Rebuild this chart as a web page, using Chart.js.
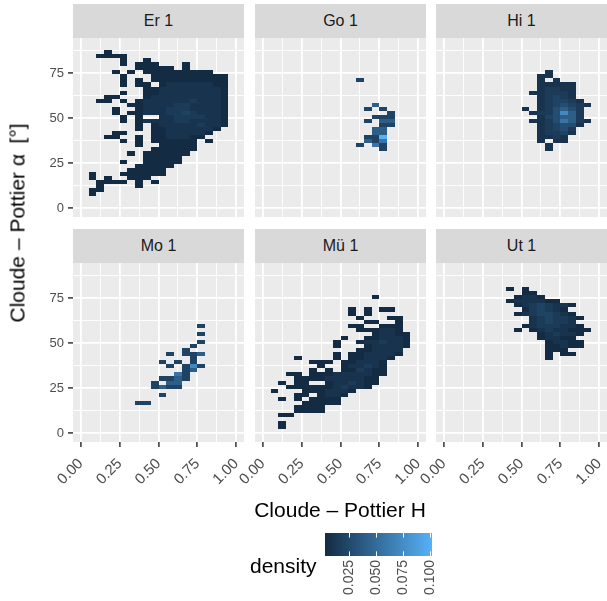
<!DOCTYPE html>
<html>
<head>
<meta charset="utf-8">
<script src="https://cdn.jsdelivr.net/npm/chart.js@4.4.1/dist/chart.umd.min.js"></script>
<style>
  html, body { margin: 0; padding: 0; background: #fff; overflow: hidden; }
  body { width: 607px; height: 601px; position: relative; font-family: "Liberation Sans", Arial, sans-serif; }
  canvas, .strip, .label { position: absolute; }
  .strip { background: #D9D9D9; color: #1A1A1A; font-size: 16px; display: flex; align-items: center; justify-content: center; }
  .label { color: #000; font-size: 21px; line-height: 21px; white-space: nowrap; }
</style>
</head>
<body>
<script>
// Facets, bins and axes
const PANELS = ['Er 1', 'Go 1', 'Hi 1', 'Mo 1', 'Mü 1', 'Ut 1'];
const BIN_W = 0.05;      // Cloude-Pottier H
const BIN_H = 2.25;      // alpha, degrees
const N_ROWS = 40;
const X_TICKS = [0, 0.25, 0.5, 0.75, 1];
const X_MINOR = [0.125, 0.375, 0.625, 0.875];
const Y_TICKS = [0, 25, 50, 75];
const Y_MINOR = [12.5, 37.5, 62.5, 87.5];
const LEGEND_TICKS = [0.025, 0.05, 0.075, 0.1];
const DENSITY_MIN = 0.0024;
const DENSITY_MAX = 0.102;

// density for each level character used in the grids below
const LEVELS = { '1': 0.003, '2': 0.008, '3': 0.014, '4': 0.020, '5': 0.028, '6': 0.040, '7': 0.057, '8': 0.072, '9': 0.102 };

// 2d bins, one row per alpha bin from the top (bin 39) to the bottom (bin 0), 20 H bins per row
const gridEr = [
  '..... ..... ..... .....',
  '...1. ..... ..... .....',
  '..111 1.... ..... .....',
  '..... 1..1. ..... .....',
  '..... 1.111 ...1. .....',
  '..... ..111 11.1. .....',
  '....1 .1.11 11111 11...',
  '..... 1...1 11111 1111.',
  '..... 1.1.1 11111 1111.',
  '..... 1.11. 12222 2211.',
  '..... ...11 22222 2221.',
  '..... 1..11 22222 2221.',
  '...11 ...12 22222 2221.',
  '..11. 1.122 22223 2221.',
  '..... .1122 22332 2221.',
  '....1 ..122 23332 2221.',
  '....1 .1122 23343 2221.',
  '..... 1.1.. 22333 3221.',
  '..... 1.122 22332 2221.',
  '..... ..1.1 22222 3221.',
  '..... ..1.1 12222 221..',
  '....1 1...1 12222 21...',
  '...11 ..1.1 12221 1....',
  '..... 1.1.1 11111 .1...',
  '..... ..1.. 11111 .....',
  '..... ....1 11111 .....',
  '..... .1.11 1111. .....',
  '..... ...11 111.. .....',
  '..... 1..11 111.. .....',
  '..... ..111 11... .....',
  '..... .1111 1.... .....',
  '.1... 11111 1.... .....',
  '.1.1. .111. ..... .....',
  '..111 1.1.1 ..... .....',
  '..1.. ..1.. ..... .....',
  '.11.. ..... ..... .....',
  '.1... ..... ..... .....',
  '..... ..... ..... .....',
  '..... ..... ..... .....',
  '..... ..... ..... .....'
];

const gridGo = [
  '..... ..... ..... .....',
  '..... ..... ..... .....',
  '..... ..... ..... .....',
  '..... ..... ..... .....',
  '..... ..... ..... .....',
  '..... ..... ..... .....',
  '..... ..... ..... .....',
  '..... ..... ..... .....',
  '..... ..... ..4.. .....',
  '..... ..... ..... .....',
  '..... ..... ..... .....',
  '..... ..... ..... .....',
  '..... ..... ..... .....',
  '..... ..... ..... .....',
  '..... ..... ....6 .....',
  '..... ..... ...4. 4....',
  '..... ..... ..... .4...',
  '..... ..... ....4 44...',
  '..... ..... ...4. 66...',
  '..... ..... ..... 44...',
  '..... ..... ....6 6....',
  '..... ..... ....6 6....',
  '..... ..... ...44 9....',
  '..... ..... ...64 7....',
  '..... ..... ..4.7 4....',
  '..... ..... ..... 4....',
  '..... ..... ..... .....',
  '..... ..... ..... .....',
  '..... ..... ..... .....',
  '..... ..... ..... .....',
  '..... ..... ..... .....',
  '..... ..... ..... .....',
  '..... ..... ..... .....',
  '..... ..... ..... .....',
  '..... ..... ..... .....',
  '..... ..... ..... .....',
  '..... ..... ..... .....',
  '..... ..... ..... .....',
  '..... ..... ..... .....',
  '..... ..... ..... .....'
];

const gridHi = [
  '..... ..... ..... .....',
  '..... ..... ..... .....',
  '..... ..... ..... .....',
  '..... ..... ..... .....',
  '..... ..... ..... .....',
  '..... ..... ..... .....',
  '..... ..... ...2. .....',
  '..... ..... ..22. .....',
  '..... ..... ..2.2 .....',
  '..... ..... ..222 22...',
  '..... ..... ..233 22...',
  '..... ..... .2233 32...',
  '..... ..... ..234 32...',
  '..... ..... ..234 432..',
  '..... ..... ..234 5432.',
  '..... ..... 2.235 653..',
  '..... ..... .2335 863..',
  '..... ..... ..245 663..',
  '..... ..... .2235 7632.',
  '..... ..... ..234 552..',
  '..... ..... ..234 53...',
  '..... ..... ..233 42...',
  '..... ..... ..223 2....',
  '..... ..... ..2.2 2....',
  '..... ..... ...2. .....',
  '..... ..... ...2. .....',
  '..... ..... ..... .....',
  '..... ..... ..... .....',
  '..... ..... ..... .....',
  '..... ..... ..... .....',
  '..... ..... ..... .....',
  '..... ..... ..... .....',
  '..... ..... ..... .....',
  '..... ..... ..... .....',
  '..... ..... ..... .....',
  '..... ..... ..... .....',
  '..... ..... ..... .....',
  '..... ..... ..... .....',
  '..... ..... ..... .....',
  '..... ..... ..... .....'
];

const gridMo = [
  '..... ..... ..... .....',
  '..... ..... ..... .....',
  '..... ..... ..... .....',
  '..... ..... ..... .....',
  '..... ..... ..... .....',
  '..... ..... ..... .....',
  '..... ..... ..... .....',
  '..... ..... ..... .....',
  '..... ..... ..... .....',
  '..... ..... ..... .....',
  '..... ..... ..... .....',
  '..... ..... ..... .....',
  '..... ..... ..... .....',
  '..... ..... ..... 4....',
  '..... ..... ..... .....',
  '..... ..... ..... 4....',
  '..... ..... ..... .....',
  '..... ..... ..... 4....',
  '..... ..... ....4 .....',
  '..... ..... ...4. .....',
  '..... ..... .4.44 6....',
  '..... ..... ....4 .....',
  '..... ..... 4.4.4 .....',
  '..... ..... .4.48 4....',
  '..... ..... ...46 .....',
  '..... ..... ..74. .....',
  '..... ..... 4464. .....',
  '..... ....4 .66.. .....',
  '..... ....4 644.. .....',
  '..... ..... ..... .....',
  '..... ..... 4.... .....',
  '..... ..... ..... .....',
  '..... ..44. ..... .....',
  '..... ..... ..... .....',
  '..... ..... ..... .....',
  '..... ..... ..... .....',
  '..... ..... ..... .....',
  '..... ..... ..... .....',
  '..... ..... ..... .....',
  '..... ..... ..... .....'
];

const gridMu = [
  '..... ..... ..... .....',
  '..... ..... ..... .....',
  '..... ..... ..... .....',
  '..... ..... ..... .....',
  '..... ..... ..... .....',
  '..... ..... ..... .....',
  '..... ..... ....1 .....',
  '..... ..... ..... .....',
  '..... ..... ..... .....',
  '..... ..... .1.1. 11...',
  '..... ..... .1.1. .....',
  '..... ..... ..1.. .11..',
  '..... ..... ...11 ..1..',
  '..... ..... .11.. 111..',
  '..... ..... ..111 221..',
  '..... ..... ....1 2211.',
  '..... ..... 1..11 2221.',
  '..... ....1 ..122 3221.',
  '..... ....1 ...12 2221.',
  '..... ..... ..112 222..',
  '..... ....1 .1122 221..',
  '....1 ....1 .1122 21...',
  '..... .111. 11222 1....',
  '..... ..1.. 12232 1....',
  '..... .1.1. 11321 1....',
  '...11 .1112 22221 1....',
  '....1 11122 22211 .....',
  '..1.1 1..12 23211 .....',
  '...11 11112 3221. .....',
  '.1... 11122 21... .....',
  '....1 1.122 1.... .....',
  '..1.1 .1111 ..... .....',
  '..... 11111 ..... .....',
  '....1 111.. ..... .....',
  '....1 111.. ..... .....',
  '..11. ..... ..... .....',
  '..... ..... ..... .....',
  '..1.. ..... ..... .....',
  '..1.. ..... ..... .....',
  '..... ..... ..... .....'
];

const gridUt = [
  '..... ..... ..... .....',
  '..... ..... ..... .....',
  '..... ..... ..... .....',
  '..... ..... ..... .....',
  '..... ...1. 1.... .....',
  '..... ..... 11... .....',
  '..... ....1 221.. .....',
  '..... ...12 22211 .....',
  '..... ....1 23432 21...',
  '..... ..... 13432 1....',
  '..... ....1 23443 21...',
  '..... ..... .2343 321..',
  '..... ..... .2343 32...',
  '..... ..... 12333 221..',
  '..... ....1 .1232 2111.',
  '..... ..... ..123 221..',
  '..... ..... ..122 11...',
  '..... ..... ...12 211..',
  '..... ..... ...11 211..',
  '..... ..... ...11 1....',
  '..... ..... ...1. 11...',
  '..... ..... ...1. .....',
  '..... ..... ..... .....',
  '..... ..... ..... .....',
  '..... ..... ..... .....',
  '..... ..... ..... .....',
  '..... ..... ..... .....',
  '..... ..... ..... .....',
  '..... ..... ..... .....',
  '..... ..... ..... .....',
  '..... ..... ..... .....',
  '..... ..... ..... .....',
  '..... ..... ..... .....',
  '..... ..... ..... .....',
  '..... ..... ..... .....',
  '..... ..... ..... .....',
  '..... ..... ..... .....',
  '..... ..... ..... .....',
  '..... ..... ..... .....',
  '..... ..... ..... .....'
];

const GRIDS = [gridEr, gridGo, gridHi, gridMo, gridMu, gridUt];

// Layout (px)
const PANEL_LEFT = [73, 255, 436];
const PANEL_TOP = [38, 263];
const PANEL_W = 171;
const PANEL_H = 179;
const STRIP_H = 34;
const X_AXIS_H = 55;
const GUTTER = 34;   // blank room left of inner panels so rotated labels are not cut

const LOW = [19, 43, 67];     // #132B43
const HIGH = [86, 177, 247];  // #56B1F7

Chart.defaults.font.family = '"Liberation Sans", Arial, sans-serif';

function fillFor(v) {
    const t = Math.min(1, Math.max(0, (v - DENSITY_MIN) / (DENSITY_MAX - DENSITY_MIN)));
    const c = LOW.map((lo, k) => Math.round(lo + (HIGH[k] - lo) * t));
    return `rgb(${c[0]}, ${c[1]}, ${c[2]})`;
}

// Turn a grid into bin centres with their density
function cellsFrom(grid) {
    const pts = [];
    grid.forEach((row, k) => {
        const j = N_ROWS - 1 - k;
        row.replace(/ /g, '').split('').forEach((ch, i) => {
            if (LEVELS[ch]) pts.push({ x: (i + 0.5) * BIN_W, y: (j + 0.5) * BIN_H, v: LEVELS[ch] });
        });
    });
    return pts;
}

// Grey panel background
const panelBg = {
    id: 'panelBg',
    beforeDraw(chart) {
        const { ctx, chartArea: a } = chart;
        ctx.save();
        ctx.fillStyle = '#EBEBEB';
        ctx.fillRect(a.left, a.top, a.right - a.left, a.bottom - a.top);
        ctx.restore();
    }
};

// Bin rectangles placed through the chart scales
const binCells = {
    id: 'binCells',
    beforeDatasetsDraw(chart) {
        const { ctx, chartArea: a, scales: { x, y } } = chart;
        ctx.save();
        ctx.beginPath();
        ctx.rect(a.left, a.top, a.right - a.left, a.bottom - a.top);
        ctx.clip();
        chart.data.datasets[0].data.forEach(p => {
            const x0 = Math.round(x.getPixelForValue(p.x - BIN_W / 2));
            const x1 = Math.round(x.getPixelForValue(p.x + BIN_W / 2));
            const y0 = Math.round(y.getPixelForValue(p.y + BIN_H / 2));
            const y1 = Math.round(y.getPixelForValue(p.y - BIN_H / 2));
            ctx.fillStyle = fillFor(p.v);
            ctx.fillRect(x0, y0, x1 - x0, y1 - y0);
        });
        ctx.restore();
    }
};

function addBox(cls, text, css) {
    const el = document.createElement('div');
    el.className = cls;
    el.textContent = text;
    Object.assign(el.style, css);
    document.body.appendChild(el);
    return el;
}

PANELS.forEach((name, idx) => {
    const r = Math.floor(idx / 3);
    const c = idx % 3;
    const yAxisW = c === 0 ? PANEL_LEFT[0] : GUTTER;
    const left = PANEL_LEFT[c] - yAxisW;
    const width = yAxisW + PANEL_W;
    const height = PANEL_H + (r === 1 ? X_AXIS_H : 0);

    addBox('strip', name, {
        left: PANEL_LEFT[c] + 'px', top: (PANEL_TOP[r] - STRIP_H) + 'px',
        width: PANEL_W + 'px', height: STRIP_H + 'px'
    });

    const canvas = document.createElement('canvas');
    canvas.width = width;
    canvas.height = height;
    Object.assign(canvas.style, { left: left + 'px', top: PANEL_TOP[r] + 'px', width: width + 'px', height: height + 'px' });
    document.body.appendChild(canvas);

    const showX = r === 1;
    const showY = c === 0;

    new Chart(canvas, {
        type: 'scatter',
        data: { datasets: [{ data: cellsFrom(GRIDS[idx]), pointRadius: 0, pointHoverRadius: 0 }] },
        options: {
            responsive: false,
            animation: false,
            events: [],
            layout: { padding: 0 },
            plugins: { legend: { display: false }, tooltip: { enabled: false } },
            scales: {
                x: {
                    type: 'linear',
                    min: -0.05,
                    max: 1.05,
                    afterBuildTicks: s => { s.ticks = X_TICKS.concat(X_MINOR).sort((a, b) => a - b).map(v => ({ value: v })); },
                    afterFit: s => { s.height = showX ? X_AXIS_H : 0; s.paddingLeft = 0; s.paddingRight = 0; },
                    border: { display: false },
                    grid: {
                        color: '#FFFFFF',
                        lineWidth: ctx => (ctx.tick && X_TICKS.includes(ctx.tick.value)) ? 1.8 : 0.9,
                        drawTicks: showX,
                        tickLength: 5,
                        tickWidth: 1.5,
                        tickColor: ctx => (ctx.tick && X_TICKS.includes(ctx.tick.value)) ? '#333333' : 'rgba(0,0,0,0)'
                    },
                    ticks: {
                        display: showX,
                        autoSkip: false,
                        minRotation: 45,
                        maxRotation: 45,
                        padding: 8,
                        color: '#4D4D4D',
                        font: { size: 15 },
                        callback: v => X_TICKS.includes(v) ? v.toFixed(2) : ''
                    }
                },
                y: {
                    type: 'linear',
                    min: -4.8,
                    max: 94.4,
                    afterBuildTicks: s => { s.ticks = Y_TICKS.concat(Y_MINOR).sort((a, b) => a - b).map(v => ({ value: v })); },
                    afterFit: s => { s.width = yAxisW; s.paddingTop = 0; s.paddingBottom = 0; },
                    border: { display: false },
                    grid: {
                        color: '#FFFFFF',
                        lineWidth: ctx => (ctx.tick && Y_TICKS.includes(ctx.tick.value)) ? 1.8 : 0.9,
                        drawTicks: showY,
                        tickLength: 5,
                        tickWidth: 1.5,
                        tickColor: ctx => (ctx.tick && Y_TICKS.includes(ctx.tick.value)) ? '#333333' : 'rgba(0,0,0,0)'
                    },
                    ticks: {
                        display: showY,
                        autoSkip: false,
                        padding: 4,
                        color: '#4D4D4D',
                        font: { size: 13 },
                        callback: v => Y_TICKS.includes(v) ? String(v) : ''
                    }
                }
            }
        },
        plugins: [panelBg, binCells]
    });
});

// Axis titles
addBox('label', 'Cloude – Pottier H', { left: '340px', top: '499px', transform: 'translateX(-50%)' });
addBox('label', 'Cloude – Pottier α\u2002[°]', {
    left: '17px', top: '223px', transform: 'translate(-50%, -50%) rotate(-90deg)'
});

// Colour bar legend
addBox('label', 'density', { left: '250px', top: '555px' });

const colourBar = {
    id: 'colourBar',
    beforeDatasetsDraw(chart) {
        const { ctx, chartArea: a, scales: { x } } = chart;
        const g = ctx.createLinearGradient(x.getPixelForValue(DENSITY_MIN), 0, x.getPixelForValue(DENSITY_MAX), 0);
        for (let k = 0; k <= 10; k++) {
            g.addColorStop(k / 10, fillFor(DENSITY_MIN + (DENSITY_MAX - DENSITY_MIN) * k / 10));
        }
        ctx.save();
        ctx.fillStyle = g;
        ctx.fillRect(a.left, a.top, a.right - a.left, a.bottom - a.top);
        ctx.strokeStyle = '#FFFFFF';
        ctx.lineWidth = 1;
        const h = (a.bottom - a.top) / 5;
        LEGEND_TICKS.forEach(v => {
            const px = Math.round(x.getPixelForValue(v)) + 0.5;
            ctx.beginPath();
            ctx.moveTo(px, a.top); ctx.lineTo(px, a.top + h);
            ctx.moveTo(px, a.bottom - h); ctx.lineTo(px, a.bottom);
            ctx.stroke();
        });
        ctx.restore();
    }
};

const legendCanvas = document.createElement('canvas');
legendCanvas.width = 125;
legendCanvas.height = 73;
Object.assign(legendCanvas.style, { left: '318px', top: '528px', width: '125px', height: '73px' });
document.body.appendChild(legendCanvas);

new Chart(legendCanvas, {
    type: 'scatter',
    data: { datasets: [{ data: [], pointRadius: 0 }] },
    options: {
        responsive: false,
        animation: false,
        events: [],
        layout: { padding: { left: 7, right: 11, top: 5, bottom: 0 } },
        plugins: { legend: { display: false }, tooltip: { enabled: false } },
        scales: {
            x: {
                type: 'linear',
                min: DENSITY_MIN,
                max: DENSITY_MAX,
                afterBuildTicks: s => { s.ticks = LEGEND_TICKS.map(v => ({ value: v })); },
                afterFit: s => { s.height = 45; s.paddingLeft = 0; s.paddingRight = 0; },
                border: { display: false },
                grid: { display: false, drawTicks: false },
                ticks: {
                    autoSkip: false,
                    minRotation: 90,
                    maxRotation: 90,
                    padding: 4,
                    color: '#4D4D4D',
                    font: { size: 14 },
                    callback: v => v.toFixed(3)
                }
            },
            y: { display: false, min: 0, max: 1 }
        }
    },
    plugins: [colourBar]
});
</script>
</body>
</html>
